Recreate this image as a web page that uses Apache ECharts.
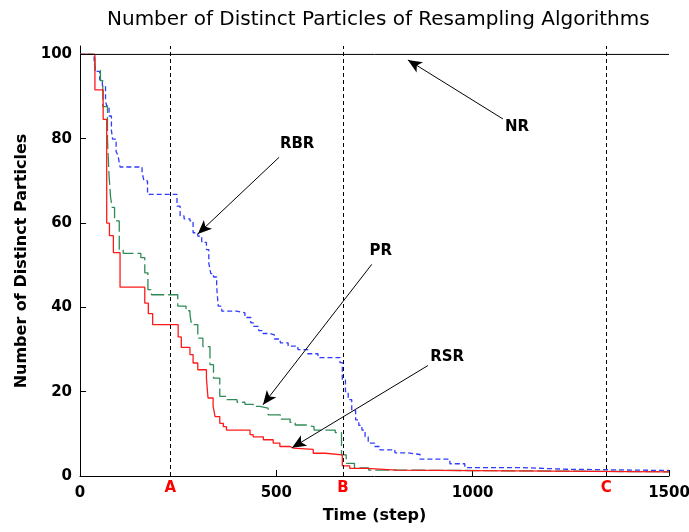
<!DOCTYPE html>
<html>
<head>
<meta charset="utf-8">
<script src="https://cdn.jsdelivr.net/npm/echarts@6/dist/echarts.min.js"></script>
<style>
  html, body { margin: 0; padding: 0; background: #ffffff; }
  #chart { width: 689px; height: 532px; }
</style>
</head>
<body>
<div id="chart"></div>
<script>
// Axis ticks
const xTicks = [0, 500, 1000, 1500];
const yTicks = [0, 20, 40, 60, 80, 100];

// Marked time instants shown under the axis
const markerNames = ['A', 'B', 'C'];
const markerSteps = [230, 670, 1340];

// NR keeps all particles distinct
const nrSeries = [[0, 100], [1500, 100]];

// RBR: [time step, distinct particles]
const rbrSeries = [
  [0, 100], [36, 98], [40, 96], [50, 94], [57, 92.6], [65, 89], [68, 87.8], [74, 85.4],
  [80, 82], [83, 79.9], [92, 77], [97, 75.9], [102, 73.3], [158, 72], [163, 70], [172, 66.8],
  [247, 64], [255, 61.7], [265, 61], [280, 60.5], [288, 57.7], [300, 56.9], [310, 55.4],
  [322, 53.7], [328, 50.5], [333, 48], [340, 47.2], [348, 45], [352, 40.3], [361, 39.1],
  [399, 38.7], [420, 37.6], [435, 36.3], [442, 35.5], [455, 34.5], [466, 33.8], [483, 33.5],
  [495, 32.5], [510, 31.6], [530, 30.8], [555, 30], [580, 29], [606, 28.1], [662, 26.9],
  [668, 22.8], [676, 20], [683, 18.1], [692, 15.5], [702, 13.3], [710, 12], [718, 10.9],
  [726, 9.3], [734, 7.8], [750, 7.0], [764, 6.2], [802, 5.5], [833, 5.1], [866, 4.0],
  [942, 2.9], [980, 2.0], [1120, 1.6], [1240, 1.3], [1500, 1.3]
];

// PR: [time step, distinct particles]
const prSeries = [
  [0, 100], [38, 96.2], [52, 93.8], [58, 87.6], [70, 79.9], [74, 71.2], [78, 66], [82, 63.7],
  [88, 60.5], [100, 53.7], [110, 52.8], [155, 51.8], [165, 48.2], [173, 44.2], [182, 43.0],
  [249, 40.3], [270, 39.2], [280, 38.3], [284, 35.9], [300, 32.7], [313, 30.7], [331, 26.4],
  [340, 23.2], [356, 18.9], [373, 18.1], [400, 17.5], [420, 17.0], [441, 16.5], [458, 16.1],
  [479, 14.5], [510, 13.5], [535, 12.7], [548, 12.1], [575, 11.7], [596, 10.9], [650, 10.3],
  [666, 5.0], [678, 3.0], [699, 1.9], [735, 1.4], [815, 1.0], [1500, 1.0]
];

// RSR: [time step, distinct particles]
const rsrSeries = [
  [0, 100], [38, 91.6], [59, 84.6], [68, 60], [75, 57], [85, 53], [102, 44.8], [165, 41],
  [174, 38.5], [185, 35.9], [250, 33], [258, 30.5], [280, 28.8], [288, 26.8], [300, 25.2],
  [322, 23.2], [326, 18.5], [339, 16.5], [344, 14.1], [356, 12.5], [365, 11.7], [373, 10.9],
  [433, 9.8], [441, 9.3], [467, 8.6], [492, 7.8], [509, 7.0], [535, 6.6], [543, 6.3],
  [594, 5.4], [625, 5.0], [668, 2.4], [687, 1.8], [730, 1.4], [806, 1.0], [1500, 1.0]
];

// Callout labels and their arrows, in data units
const calloutNames = ['NR', 'RBR', 'PR', 'RSR'];
const calloutText = [[1113, 82.8], [553, 78.7], [766, 53.3], [935, 28.3]];
const arrowTail = [[1077, 84.7], [507, 75.6], [743, 50.2], [886, 26.2]];
const arrowHead = [[835, 98.7], [300, 57.4], [466, 16.9], [540, 6.7]];

const FONT = 'DejaVu Sans';
const chart = echarts.init(document.getElementById('chart'), null, { renderer: 'canvas' });

const arrows = arrowTail.map((tail, i) => [
  { coord: tail },
  { coord: arrowHead[i] }
]);

chart.setOption({
  animation: false,
  backgroundColor: '#ffffff',
  title: {
    text: 'Number of Distinct Particles of Resampling Algorithms',
    left: 102,
    top: 5,
    textStyle: { fontFamily: FONT, fontSize: 20, fontWeight: 'normal', color: '#000' }
  },
  grid: { left: 80, right: 20, top: 46, bottom: 56, outerBoundsMode: 'none' },
  xAxis: [
    {
      type: 'value', min: 0, max: 1500, interval: 500,
      name: 'Time (step)', nameLocation: 'middle', nameGap: 32,
      nameTextStyle: { fontFamily: FONT, fontSize: 16, fontWeight: 'bold', color: '#000' },
      axisLine: { show: true, lineStyle: { color: '#000', width: 1 } },
      axisTick: { show: true, inside: true, length: 6, lineStyle: { color: '#000' }, customValues: xTicks },
      axisLabel: {
        fontFamily: FONT, fontSize: 15, fontWeight: 'bold', color: '#000', margin: 10,
        customValues: xTicks, formatter: v => String(v)
      },
      splitLine: { show: false }
    },
    {
      type: 'value', min: 0, max: 1500, position: 'bottom', offset: 0,
      axisLine: { show: false }, axisTick: { show: false }, splitLine: { show: false },
      axisLabel: {
        customValues: markerSteps,
        formatter: v => markerNames[markerSteps.indexOf(v)] || '',
        fontFamily: FONT, fontSize: 15, fontWeight: 'bold', color: '#ff0000', margin: 5
      }
    }
  ],
  yAxis: {
    type: 'value', min: 0, max: 102,
    name: 'Number of Distinct Particles', nameLocation: 'middle', nameGap: 50,
    nameTextStyle: { fontFamily: FONT, fontSize: 16, fontWeight: 'bold', color: '#000' },
    axisLine: { show: true, lineStyle: { color: '#000', width: 1 } },
    axisTick: { show: true, inside: true, length: 6, lineStyle: { color: '#000' }, customValues: yTicks },
    axisLabel: {
      fontFamily: FONT, fontSize: 15, fontWeight: 'bold', color: '#000', margin: 8,
      customValues: yTicks, formatter: v => String(v)
    },
    splitLine: { show: false }
  },
  series: [
    {
      name: 'RBR', type: 'line', step: 'end', data: rbrSeries, showSymbol: false,
      lineStyle: { color: '#2f3cff', width: 1.3, type: [5, 3] }
    },
    {
      name: 'PR', type: 'line', step: 'end', data: prSeries, showSymbol: false,
      lineStyle: { color: '#2e8b57', width: 1.3, type: [14, 4] }
    },
    {
      name: 'RSR', type: 'line', step: 'end', data: rsrSeries, showSymbol: false,
      lineStyle: { color: '#ff1a1a', width: 1.3 },
      // dashed verticals at the marked instants
      markLine: {
        silent: true,
        animation: false,
        symbol: ['none', 'none'],
        label: { show: false },
        emphasis: { disabled: true },
        lineStyle: { color: '#000', type: [4, 3], width: 1 },
        data: markerSteps.map(s => ({ xAxis: s }))
      }
    },
    {
      name: 'NR', type: 'line', data: nrSeries, showSymbol: false,
      lineStyle: { color: '#000', width: 1 },
      // callout arrows
      markLine: {
        silent: true,
        animation: false,
        symbol: ['none', 'arrow'],
        symbolSize: [9, 14],
        label: { show: false },
        emphasis: { disabled: true },
        lineStyle: { color: '#000', width: 1, type: 'solid' },
        data: arrows
      },
      markPoint: {
        silent: true,
        symbol: 'circle', symbolSize: 0,
        label: {
          show: true, position: 'inside',
          fontFamily: FONT, fontSize: 15, fontWeight: 'bold', color: '#000'
        },
        data: calloutNames.map((n, i) => ({ coord: calloutText[i], value: n, label: { formatter: n } }))
      }
    }
  ]
});
</script>
</body>
</html>
